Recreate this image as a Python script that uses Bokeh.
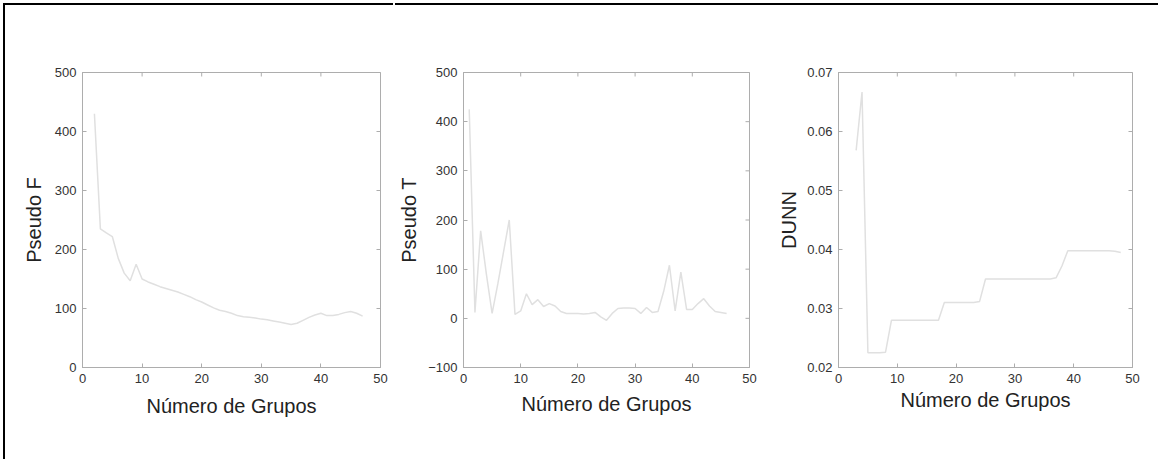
import math
from bokeh.plotting import figure
from bokeh.layouts import row, column
from bokeh.models import FixedTicker, Range1d, ColumnDataSource, Spacer
from bokeh.embed import file_html
from bokeh.resources import INLINE

# ---- data ----
f_groups = list(range(2, 48))
pseudo_f = [430, 235, 228, 222, 185, 160, 147, 175, 150, 145,
            141, 137, 134, 131, 128, 124, 120, 115, 111, 106,
            101, 97, 95, 92, 88, 86, 85, 84, 82, 81,
            79, 77, 75, 73, 75, 80, 85, 89, 92, 88,
            88, 90, 93, 95, 92, 87]

t_groups = list(range(1, 47))
pseudo_t = [425, 12, 178, 90, 10, 70, 135, 200, 8, 15,
            50, 28, 38, 24, 30, 25, 14, 10, 10, 10,
            9, 10, 12, 3, -4, 10, 20, 21, 21, 20,
            10, 22, 12, 14, 55, 108, 15, 94, 18, 18,
            30, 40, 25, 14, 12, 10]

d_groups = list(range(3, 49))
dunn = [0.0568, 0.0667, 0.0225, 0.0225, 0.0225, 0.0226, 0.0280, 0.0280, 0.0280, 0.0280,
        0.0280, 0.0280, 0.0280, 0.0280, 0.0280, 0.0310, 0.0310, 0.0310, 0.0310, 0.0310,
        0.0310, 0.0312, 0.0350, 0.0350, 0.0350, 0.0350, 0.0350, 0.0350, 0.0350, 0.0350,
        0.0350, 0.0350, 0.0350, 0.0350, 0.0352, 0.0372, 0.0398, 0.0398, 0.0398, 0.0398,
        0.0398, 0.0398, 0.0398, 0.0398, 0.0397, 0.0395]

x_range = (0, 50)
x_ticks = [0, 10, 20, 30, 40, 50]
f_range = (0, 500)
f_ticks = [0, 100, 200, 300, 400, 500]
t_range = (-100, 500)
t_ticks = [-100, 0, 100, 200, 300, 400, 500]
d_range = (0.02, 0.07)
d_ticks = [0.02, 0.03, 0.04, 0.05, 0.06, 0.07]

x_label = "Número de Grupos"

FONT = "Liberation Sans"
AXIS_GRAY = "#adadad"
LINE_GRAY = "#e0e0e0"


def style_axis(ax, ticks):
    ax.ticker = FixedTicker(ticks=ticks)
    ax.axis_line_color = AXIS_GRAY
    ax.major_tick_line_color = AXIS_GRAY
    ax.major_tick_in = 4
    ax.major_tick_out = 0
    ax.minor_tick_line_color = None
    ax.major_label_text_font = FONT
    ax.major_label_text_color = "#333333"
    ax.major_label_text_font_size = "13px"
    ax.major_label_standoff = 6
    ax.axis_label_text_font = FONT
    ax.axis_label_text_font_style = "normal"
    ax.axis_label_text_color = "#222222"
    ax.axis_label_text_font_size = "20px"


def panel(xs, ys, yr, yticks, ylabel, width, left, right, top, bottom,
          xstand, ystand, shadow, height=456):
    p = figure(width=width, height=height, output_backend="svg", toolbar_location=None,
               x_range=Range1d(*x_range), y_range=Range1d(*yr),
               min_border_left=left, min_border_right=right,
               min_border_top=top, min_border_bottom=bottom,
               background_fill_color="white", border_fill_color="white",
               styles={"box-shadow": shadow})
    p.grid.visible = False
    p.outline_line_color = AXIS_GRAY
    src = ColumnDataSource(dict(x=xs, y=ys))
    p.line("x", "y", source=src, line_color=LINE_GRAY, line_width=1.5)
    style_axis(p.xaxis[0], x_ticks)
    style_axis(p.yaxis[0], yticks)
    p.xaxis[0].axis_label = x_label
    p.xaxis[0].axis_label_standoff = xstand
    p.yaxis[0].axis_label = ylabel
    p.yaxis[0].axis_label_standoff = ystand
    # mirrored inward ticks on the top and right edges of the box
    p.scatter(x=x_ticks, y=[yr[1]] * len(x_ticks), marker="dash", size=8,
              angle=math.pi / 2, line_color=AXIS_GRAY, line_width=1)
    p.scatter(x=[x_range[1]] * len(yticks), y=yticks, marker="dash", size=8,
              angle=0, line_color=AXIS_GRAY, line_width=1)
    return p


p1 = panel(f_groups, pseudo_f, f_range, f_ticks, "Pseudo F",
           width=390, left=77, right=15, top=66, bottom=92, xstand=9, ystand=7,
           shadow="-2px -2px 0px 0px black")
p2 = panel(t_groups, pseudo_t, t_range, t_ticks, "Pseudo T",
           width=380, left=59, right=26, top=67, bottom=94, xstand=7, ystand=5,
           shadow="0px -2px 0px 0px black")
p3 = panel(d_groups, dunn, d_range, d_ticks, "DUNN",
           width=383, left=55, right=26, top=58, bottom=94, xstand=3, ystand=4,
           shadow="0px -2px 0px 0px black")

layout = column(Spacer(width=10, height=5),
                row(Spacer(width=5, height=10), p1, p2, p3, spacing=0),
                spacing=0)

open("out.html", "w").write(file_html(layout, INLINE))
